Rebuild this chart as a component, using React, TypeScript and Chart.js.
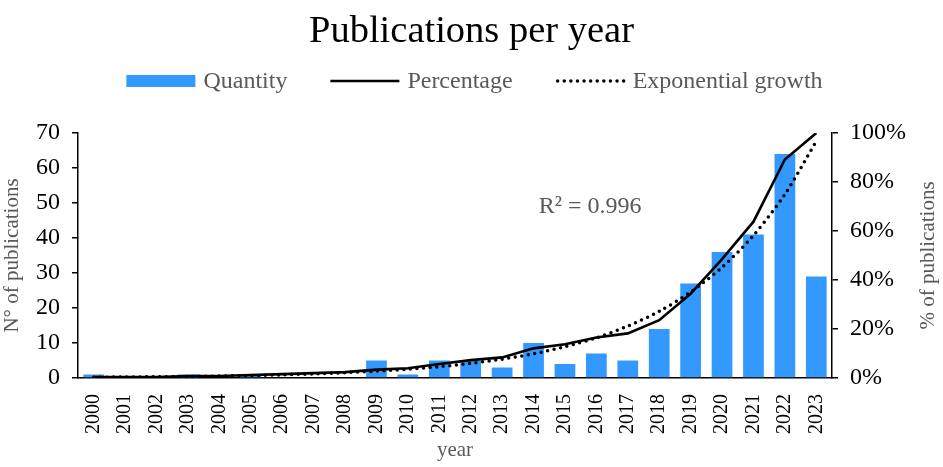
import React, { useEffect, useRef } from 'react';
import { Chart, registerables } from 'chart.js';

Chart.register(...registerables);

const years = ['2000','2001','2002','2003','2004','2005','2006','2007','2008','2009','2010','2011','2012','2013','2014','2015','2016','2017','2018','2019','2020','2021','2022','2023'];
const quantity = [1,0,0,1,0,1,0,0,0,5,1,5,5,3,10,4,7,5,14,27,36,41,64,29];
const percentage = [0.4,0.4,0.4,0.8,0.8,1.2,1.6,2.0,2.4,3.4,4.0,5.7,7.3,8.4,12.1,13.8,16.5,18.2,23.6,34.4,48.5,63.8,89.2,100];
const exponential = [0.3,0.4,0.5,0.6,0.8,1.0,1.3,1.7,2.2,2.8,3.6,4.6,6.0,7.7,9.9,12.8,16.4,21.2,27.2,35.1,45.2,58.2,75.0,96.6];

const leftMax = 70;
const leftStep = 10;
const rightMax = 100;
const rightStep = 20;

const titleText = 'Publications per year';
const legendLabels = ['Quantity', 'Percentage', 'Exponential growth'];
const leftTitle = 'N° of publications';
const rightTitle = '% of publications';
const xTitle = 'year';
const r2Label = 'R² = 0.996';
const r2Pos = { x: 15.8, y: 49 };

const FONT = "'Liberation Serif', 'Times New Roman', serif";
const BAR = 'rgb(51,153,255)';
const GREY = '#595959';

const extrasPlugin = {
  id: 'extras',
  afterDraw(chart: any) {
    const ctx = chart.ctx;
    const ds = chart.data.datasets;
    ctx.save();
    // legend
    ctx.font = `24px ${FONT}`;
    const sw = 69, gap = 8, between = 43;
    const widths = ds.map((d: any) => sw + gap + ctx.measureText(d.label).width);
    const total = widths.reduce((a: number, b: number) => a + b, 0) + between * (ds.length - 1);
    let x = chart.width / 2 - total / 2 + 3;
    const y = 81;
    ds.forEach((d: any, i: number) => {
      if (d.type === 'bar') {
        ctx.fillStyle = d.backgroundColor;
        ctx.fillRect(x, y - 6, sw, 12);
      } else {
        ctx.beginPath();
        ctx.strokeStyle = d.borderColor;
        ctx.lineWidth = d.borderWidth;
        ctx.lineCap = d.borderCapStyle || 'butt';
        ctx.setLineDash(d.borderDash || []);
        const start = d.borderDash ? x + 2 : x;
        ctx.moveTo(start, y);
        ctx.lineTo(x + sw, y);
        ctx.stroke();
        ctx.setLineDash([]);
      }
      ctx.fillStyle = GREY;
      ctx.textAlign = 'left';
      ctx.textBaseline = 'middle';
      ctx.fillText(d.label, x + sw + gap, y + 1);
      x += widths[i] + between;
    });
    // R² annotation
    const xs = chart.scales.x;
    const ys = chart.scales.y;
    ctx.font = `24px ${FONT}`;
    ctx.fillStyle = GREY;
    ctx.textAlign = 'center';
    ctx.textBaseline = 'middle';
    ctx.fillText(r2Label, xs.getPixelForValue(r2Pos.x), ys.getPixelForValue(r2Pos.y));
    // right axis title (reads bottom to top)
    const area = chart.chartArea;
    ctx.translate(928, (area.top + area.bottom) / 2);
    ctx.rotate(-Math.PI / 2);
    ctx.font = `21px ${FONT}`;
    ctx.fillText(rightTitle, 0, 0);
    ctx.restore();
  },
};

export default function App() {
  const ref = useRef<HTMLCanvasElement | null>(null);

  useEffect(() => {
    document.body.style.margin = '0';
    const canvas = ref.current;
    if (!canvas) return;
    Chart.defaults.font.family = FONT;
    Chart.defaults.color = '#000';
    const chart = new Chart(canvas, {
      type: 'bar',
      data: {
        labels: years,
        datasets: [
          {
            type: 'bar',
            label: legendLabels[0],
            data: quantity,
            backgroundColor: BAR,
            borderWidth: 0,
            yAxisID: 'y',
            barPercentage: 0.66,
            categoryPercentage: 1.0,
            order: 3,
          },
          {
            type: 'line',
            label: legendLabels[1],
            data: percentage,
            borderColor: '#000',
            backgroundColor: '#000',
            borderWidth: 2.6,
            pointRadius: 0,
            tension: 0,
            yAxisID: 'y1',
            order: 1,
          },
          {
            type: 'line',
            label: legendLabels[2],
            data: exponential,
            borderColor: '#000',
            backgroundColor: '#000',
            borderWidth: 3.5,
            borderDash: [0, 6.6],
            borderCapStyle: 'round',
            pointRadius: 0,
            tension: 0.3,
            yAxisID: 'y1',
            order: 2,
          },
        ] as any,
      },
      options: {
        animation: false,
        responsive: false,
        maintainAspectRatio: false,
        layout: { padding: 0 },
        plugins: {
          legend: { display: false },
          tooltip: { enabled: false },
          title: {
            display: true,
            text: titleText,
            color: '#000',
            font: { size: 38.5, weight: 'normal', family: FONT, lineHeight: 1.2 },
            padding: { top: 9, bottom: 77.8 },
          },
        },
        scales: {
          x: {
            offset: true,
            grid: { display: false },
            border: { display: true, color: '#000', width: 1.5 },
            ticks: {
              autoSkip: false,
              maxRotation: 90,
              minRotation: 90,
              padding: 8,
              color: '#000',
              font: { size: 20, family: FONT },
            },
            title: {
              display: true,
              text: xTitle,
              color: GREY,
              font: { size: 21, family: FONT },
              padding: { top: 0, bottom: 4 },
            },
            afterFit: (s: any) => { s.height = 89; },
          },
          y: {
            position: 'left',
            min: 0,
            max: leftMax,
            grid: { display: true, drawOnChartArea: false, drawTicks: true, tickLength: 6, color: '#000', lineWidth: 1.5 },
            border: { display: true, color: '#000', width: 1.5 },
            ticks: {
              stepSize: leftStep,
              padding: 12,
              color: '#000',
              font: { size: 24, family: FONT },
            },
            title: {
              display: true,
              text: leftTitle,
              color: GREY,
              font: { size: 21, family: FONT },
              padding: { top: 0, bottom: 0 },
            },
            afterFit: (s: any) => { s.width = 78; },
          },
          y1: {
            position: 'right',
            min: 0,
            max: rightMax,
            grid: { display: true, drawOnChartArea: false, drawTicks: true, tickLength: 6, color: '#000', lineWidth: 1.5 },
            border: { display: true, color: '#000', width: 1.5 },
            ticks: {
              stepSize: rightStep,
              padding: 12,
              color: '#000',
              font: { size: 24, family: FONT },
              callback: (v: any) => `${v}%`,
            },
            afterFit: (s: any) => { s.width = 111; },
          },
        },
      } as any,
      plugins: [extrasPlugin],
    });
    return () => chart.destroy();
  }, []);

  return (
    <div style={{ width: 943, height: 467 }}>
      <canvas ref={ref} width={943} height={467} style={{ display: 'block', width: 943, height: 467 }} />
    </div>
  );
}
